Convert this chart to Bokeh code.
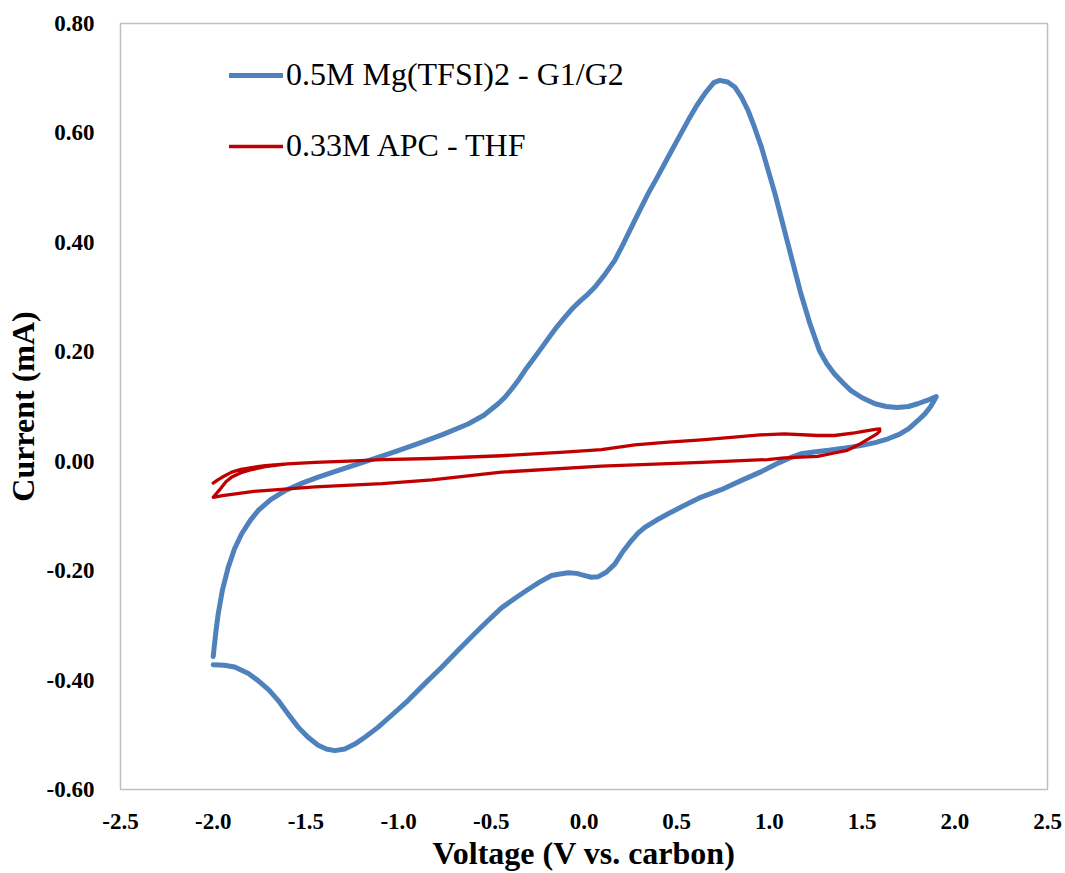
from bokeh.plotting import figure
from bokeh.models import Range1d, FixedTicker, NumeralTickFormatter, Legend, LegendItem
from bokeh.embed import file_html
from bokeh.resources import INLINE

# ---- data ----
mg_voltage = [
    -2.00, -1.985, -1.973, -1.95, -1.919, -1.885, -1.847, -1.80, -1.757, -1.69,
    -1.614, -1.52, -1.434, -1.30, -1.164, -1.03, -0.895, -0.76, -0.625, -0.54,
    -0.463, -0.429, -0.39, -0.35, -0.31, -0.266, -0.225, -0.185, -0.145, -0.104,
    -0.06, -0.02, 0.02, 0.058, 0.11, 0.166, 0.21, 0.256, 0.30, 0.346,
    0.40, 0.454, 0.51, 0.562, 0.61, 0.652, 0.700, 0.732, 0.775, 0.813,
    0.850, 0.885, 0.92, 0.957, 1.03, 1.10, 1.17, 1.22, 1.27, 1.31,
    1.35, 1.40, 1.44, 1.50, 1.57, 1.63, 1.69, 1.75, 1.80, 1.85, 1.90,
    1.87, 1.84, 1.80, 1.75, 1.70, 1.64, 1.57, 1.50, 1.41, 1.32,
    1.24, 1.17, 1.11, 1.05, 0.95, 0.85, 0.74, 0.63, 0.54, 0.454,
    0.39, 0.328, 0.29, 0.256, 0.21, 0.166, 0.12, 0.077, 0.04, 0.005,
    -0.04, -0.085, -0.13, -0.175, -0.24, -0.30, -0.37, -0.445, -0.52, -0.589,
    -0.68, -0.769, -0.86, -0.948, -1.03, -1.11, -1.18, -1.236, -1.29, -1.344,
    -1.39, -1.434, -1.49, -1.542, -1.60, -1.65, -1.70, -1.758, -1.81, -1.884,
    -1.94, -2.00,
]
mg_current = [
    -0.357, -0.310, -0.279, -0.235, -0.194, -0.160, -0.133, -0.108, -0.090, -0.070,
    -0.054, -0.040, -0.029, -0.014, 0.001, 0.016, 0.032, 0.049, 0.068, 0.084,
    0.105, 0.116, 0.132, 0.150, 0.170, 0.190, 0.209, 0.228, 0.246, 0.263,
    0.280, 0.293, 0.305, 0.318, 0.340, 0.367, 0.396, 0.428, 0.458, 0.489,
    0.522, 0.556, 0.591, 0.623, 0.651, 0.672, 0.692, 0.696, 0.693, 0.684,
    0.665, 0.641, 0.610, 0.574, 0.489, 0.397, 0.306, 0.250, 0.202, 0.178,
    0.160, 0.142, 0.129, 0.116, 0.105, 0.100, 0.098, 0.100, 0.105, 0.111, 0.118,
    0.100, 0.087, 0.074, 0.059, 0.049, 0.041, 0.034, 0.029, 0.024, 0.020,
    0.017, 0.0135, 0.006, -0.003, -0.020, -0.035, -0.052, -0.066, -0.081, -0.096,
    -0.108, -0.121, -0.132, -0.145, -0.165, -0.188, -0.203, -0.211, -0.212, -0.209,
    -0.205, -0.204, -0.206, -0.209, -0.221, -0.234, -0.250, -0.268, -0.292, -0.315,
    -0.346, -0.377, -0.407, -0.437, -0.462, -0.486, -0.504, -0.517, -0.526, -0.529,
    -0.526, -0.519, -0.504, -0.486, -0.460, -0.437, -0.418, -0.401, -0.388, -0.376,
    -0.373, -0.372,
]

apc_voltage = [
    -2.00, -1.975, -1.95, -1.90, -1.85, -1.80, -1.72, -1.60, -1.45, -1.27,
    -1.09, -0.82, -0.445, -0.085, 0.094, 0.274, 0.454, 0.634, 0.81, 0.95,
    1.08, 1.26, 1.35, 1.46, 1.53, 1.57, 1.595,
    1.595, 1.58, 1.555, 1.53, 1.48, 1.42, 1.35, 1.26, 1.08, 0.99,
    0.634, 0.094, -0.445, -0.82, -1.09, -1.45, -1.78, -1.95, -2.00,
    -1.985, -1.96, -1.93, -1.90, -1.85, -1.80, -1.72, -1.60, -1.45,
]
apc_current = [
    -0.040, -0.034, -0.029, -0.020, -0.015, -0.012, -0.008, -0.005, -0.002, 0.000,
    0.003, 0.005, 0.010, 0.017, 0.021, 0.030, 0.035, 0.039, 0.044, 0.048,
    0.050, 0.047, 0.047, 0.052, 0.056, 0.058, 0.059,
    0.055, 0.050, 0.045, 0.040, 0.030, 0.020, 0.015, 0.009, 0.006, 0.003,
    -0.002, -0.009, -0.020, -0.034, -0.041, -0.047, -0.055, -0.063, -0.066,
    -0.060, -0.050, -0.037, -0.029, -0.021, -0.016, -0.010, -0.005, -0.002,
]

series_labels = ["0.5M Mg(TFSI)2 - G1/G2", "0.33M APC - THF"]
x_ticks = [-2.5, -2.0, -1.5, -1.0, -0.5, 0.0, 0.5, 1.0, 1.5, 2.0, 2.5]
y_ticks = [-0.6, -0.4, -0.2, 0.0, 0.2, 0.4, 0.6, 0.8]

FONT = "Liberation Serif"

p = figure(width=1065, height=873, output_backend="svg", toolbar_location=None,
           x_range=Range1d(-2.5, 2.5), y_range=Range1d(-0.6, 0.8),
           min_border_left=120, min_border_right=18, min_border_top=23, min_border_bottom=84)

p.xgrid.visible = False
p.ygrid.visible = False
p.outline_line_color = "#BFBFBF"
p.outline_line_width = 1.5
p.background_fill_color = "white"
p.border_fill_color = "white"

for ax in (p.xaxis[0], p.yaxis[0]):
    ax.axis_line_color = None
    ax.major_tick_line_color = None
    ax.minor_tick_line_color = None
    ax.major_label_text_font = FONT
    ax.major_label_text_font_style = "bold"
    ax.major_label_text_font_size = "23px"
    ax.major_label_text_color = "black"
    ax.axis_label_text_font = FONT
    ax.axis_label_text_font_style = "bold"
    ax.axis_label_text_font_size = "32px"
    ax.axis_label_text_color = "black"

p.xaxis.ticker = FixedTicker(ticks=x_ticks)
p.yaxis.ticker = FixedTicker(ticks=y_ticks)
p.xaxis.formatter = NumeralTickFormatter(format="0.0")
p.yaxis.formatter = NumeralTickFormatter(format="0.00")
p.xaxis.axis_label = "Voltage (V vs. carbon)"
p.yaxis.axis_label = "Current (mA)"
p.xaxis.major_label_standoff = 18
p.yaxis.major_label_standoff = 20
p.xaxis.axis_label_standoff = 3
p.yaxis.axis_label_standoff = 3

r_mg = p.line(mg_voltage, mg_current, line_color="#4F81BD", line_width=5,
              line_join="round", line_cap="round")
r_apc = p.line(apc_voltage, apc_current, line_color="#C00000", line_width=3.3,
               line_join="round", line_cap="round")

legend = Legend(items=[LegendItem(label=series_labels[0], renderers=[r_mg]),
                       LegendItem(label=series_labels[1], renderers=[r_apc])],
                location=(109, 625), glyph_width=54, glyph_height=30,
                label_standoff=3, spacing=34, padding=0, margin=0,
                border_line_color=None, background_fill_alpha=0,
                label_text_font=FONT, label_text_font_size="32px",
                label_text_color="black")
p.add_layout(legend)

open("out.html", "w").write(file_html(p, INLINE))
